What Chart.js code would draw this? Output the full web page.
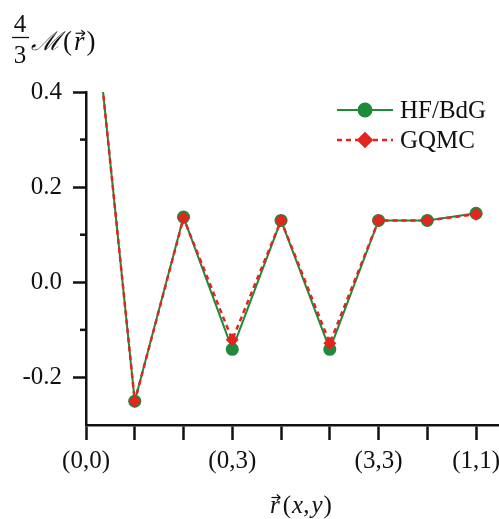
<!DOCTYPE html>
<html>
<head>
<meta charset="utf-8">
<script src="https://cdn.jsdelivr.net/npm/chart.js@4/dist/chart.umd.min.js"></script>
<style>
  html, body { margin: 0; padding: 0; background: #fff; }
  #wrap { width: 499px; height: 519px; }
</style>
</head>
<body>
<div id="wrap"><canvas id="c" width="499" height="519"></canvas></div>
<script>
// ---- data ----
const categories = ['(0,0)', '', '', '(0,3)', '', '', '(3,3)', '', '(1,1)'];
const hfBdG = [0.75, -0.25, 0.137, -0.141, 0.13, -0.141, 0.13, 0.13, 0.145];
const gqmc  = [0.75, -0.25, 0.135, -0.121, 0.13, -0.128, 0.13, 0.13, 0.143];
const yMajorTicks = [-0.2, 0.0, 0.2, 0.4];
const yMinorTicks = [-0.1, 0.1, 0.3];
const seriesNames = ['HF/BdG', 'GQMC'];

const GREEN = '#1f8a3b';
const RED = '#e3241f';
const SERIF = '"Liberation Serif", "Times New Roman", serif';

const toPoints = arr => arr.map((v, i) => ({ x: i, y: v }));

function drawVecR(ctx, x, baseline, size) {
  ctx.font = 'italic ' + size + 'px ' + SERIF;
  ctx.textAlign = 'left';
  ctx.textBaseline = 'alphabetic';
  ctx.fillText('r', x, baseline);
  const w = ctx.measureText('r').width;
  const ay = baseline - size * 0.62;
  ctx.save();
  ctx.lineWidth = 1.2;
  ctx.beginPath();
  ctx.moveTo(x + w * 0.15, ay);
  ctx.lineTo(x + w * 1.05, ay);
  ctx.stroke();
  ctx.beginPath();
  ctx.moveTo(x + w * 1.05, ay);
  ctx.lineTo(x + w * 0.7, ay - 3);
  ctx.moveTo(x + w * 1.05, ay);
  ctx.lineTo(x + w * 0.7, ay + 3);
  ctx.stroke();
  ctx.restore();
  return w;
}

const decorations = {
  id: 'decorations',
  afterDraw(chart) {
    const ctx = chart.ctx;
    const y = chart.scales.y;
    const ds = chart.data.datasets;
    ctx.save();
    ctx.fillStyle = '#111';
    ctx.strokeStyle = '#111';

    // minor y ticks
    ctx.lineWidth = 2.5;
    yMinorTicks.forEach(v => {
      const py = y.getPixelForValue(v);
      ctx.beginPath();
      ctx.moveTo(y.right - 6, py);
      ctx.lineTo(y.right, py);
      ctx.stroke();
    });

    // y title: 4/3 M(r)
    ctx.font = '25px ' + SERIF;
    ctx.textAlign = 'center';
    ctx.textBaseline = 'alphabetic';
    ctx.fillText('4', 20, 32);
    ctx.fillText('3', 20, 63);
    ctx.lineWidth = 1.3;
    ctx.beginPath();
    ctx.moveTo(12, 37.5);
    ctx.lineTo(29, 37.5);
    ctx.stroke();
    ctx.textAlign = 'left';
    ctx.font = 'italic 26px "DejaVu Serif", ' + SERIF;
    ctx.fillText('\u2133', 31, 50);
    let mx = 31 + ctx.measureText('\u2133').width + 2;
    ctx.font = '27px ' + SERIF;
    ctx.fillText('(', mx, 50);
    mx += ctx.measureText('(').width + 2;
    mx += drawVecR(ctx, mx, 50, 27) + 2;
    ctx.font = '27px ' + SERIF;
    ctx.fillText(')', mx, 50);

    // x title: r(x,y)
    let tx = 270;
    tx += drawVecR(ctx, tx, 513, 25) + 3;
    ctx.font = '25px ' + SERIF;
    ctx.fillText('(', tx, 513);
    tx += ctx.measureText('(').width + 1;
    ctx.font = 'italic 25px ' + SERIF;
    ctx.fillText('x', tx, 513);
    tx += ctx.measureText('x').width;
    ctx.font = '25px ' + SERIF;
    ctx.fillText(',', tx, 513);
    tx += ctx.measureText(',').width + 2;
    ctx.font = 'italic 25px ' + SERIF;
    ctx.fillText('y', tx, 513);
    tx += ctx.measureText('y').width + 1;
    ctx.font = '25px ' + SERIF;
    ctx.fillText(')', tx, 513);

    // legend
    const rows = [{ d: ds[0], y: 110 }, { d: ds[1], y: 140 }];
    rows.forEach(r => {
      ctx.save();
      ctx.strokeStyle = r.d.borderColor;
      ctx.lineWidth = r.d.borderWidth;
      ctx.setLineDash(r.d.borderDash || []);
      ctx.beginPath();
      ctx.moveTo(337, r.y);
      ctx.lineTo(393, r.y);
      ctx.stroke();
      ctx.setLineDash([]);
      ctx.fillStyle = r.d.backgroundColor;
      ctx.strokeStyle = r.d.backgroundColor;
      Chart.helpers.drawPoint(ctx, {
        pointStyle: r.d.pointStyle,
        radius: r.d.pointRadius,
        borderWidth: 1
      }, 365, r.y);
      ctx.restore();
      ctx.fillStyle = '#111';
      ctx.font = '25px ' + SERIF;
      ctx.textAlign = 'left';
      ctx.textBaseline = 'middle';
      ctx.fillText(r.d.label, 400, r.y + 1);
    });
    ctx.restore();
  }
};

new Chart(document.getElementById('c'), {
  type: 'line',
  data: {
    datasets: [
      {
        label: seriesNames[0],
        data: toPoints(hfBdG),
        borderColor: GREEN,
        backgroundColor: GREEN,
        borderWidth: 2,
        pointStyle: 'circle',
        pointRadius: 6.5,
        pointBorderWidth: 0,
        pointBackgroundColor: GREEN,
        tension: 0,
        order: 2
      },
      {
        label: seriesNames[1],
        data: toPoints(gqmc),
        borderColor: RED,
        backgroundColor: RED,
        borderWidth: 2.5,
        borderDash: [5, 4],
        pointStyle: 'rectRot',
        pointRadius: 6.5,
        pointBorderWidth: 0,
        pointBackgroundColor: RED,
        tension: 0,
        order: 1
      }
    ]
  },
  options: {
    responsive: false,
    animation: false,
    devicePixelRatio: 1,
    layout: { autoPadding: false, padding: { top: 92, right: 0, left: 0, bottom: 0 } },
    plugins: { legend: { display: false }, tooltip: { enabled: false } },
    scales: {
      x: {
        type: 'linear',
        min: 0,
        max: 8.47,
        afterFit: s => { s.height = 94; s.paddingLeft = 0; s.paddingRight = 0; },
        afterBuildTicks: s => { s.ticks = categories.map((c, i) => ({ value: i })); },
        border: { display: true, color: '#111', width: 2.5 },
        grid: { drawOnChartArea: false, drawTicks: true, tickLength: 15, tickColor: '#111', tickWidth: 2.5 },
        ticks: {
          color: '#111',
          font: { family: SERIF, size: 25 },
          padding: 6,
          maxRotation: 0,
          autoSkip: false,
          callback: v => categories[v] || ''
        }
      },
      y: {
        type: 'linear',
        min: -0.3,
        max: 0.4,
        afterFit: s => { s.width = 86; s.paddingTop = 0; s.paddingBottom = 0; },
        afterBuildTicks: s => { s.ticks = yMajorTicks.map(v => ({ value: v })); },
        border: { display: true, color: '#111', width: 2.5 },
        grid: { drawOnChartArea: false, drawTicks: true, tickLength: 13, tickColor: '#111', tickWidth: 2.5 },
        ticks: {
          color: '#111',
          font: { family: SERIF, size: 25 },
          padding: 11,
          callback: v => Number(v).toFixed(1)
        }
      }
    }
  },
  plugins: [decorations]
});
</script>
</body>
</html>
